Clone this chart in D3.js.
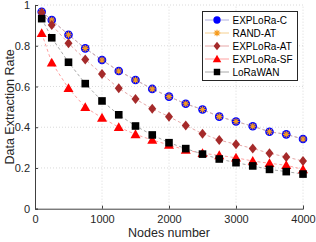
<!DOCTYPE html>
<html><head><meta charset="utf-8">
<script src="https://cdn.jsdelivr.net/npm/d3@7"></script>
<style>body{margin:0;background:#fff}svg{display:block;font-family:"Liberation Sans",Arial,sans-serif}</style>
</head><body><svg id="c" width="316" height="242"></svg>
<script>
const nodes = [100,250,500,750,1000,1250,1500,1750,2000,2250,2500,2750,3000,3250,3500,3750,4000];
const explC  = [0.967,0.926,0.854,0.787,0.730,0.676,0.632,0.588,0.550,0.515,0.487,0.452,0.428,0.405,0.378,0.365,0.342];
const randAT = [0.967,0.926,0.854,0.787,0.730,0.676,0.632,0.588,0.550,0.515,0.487,0.452,0.428,0.405,0.378,0.365,0.342];
const explAT = [0.962,0.902,0.812,0.733,0.661,0.591,0.538,0.491,0.452,0.409,0.368,0.337,0.316,0.296,0.272,0.254,0.234];
const explSF = [0.861,0.717,0.591,0.498,0.446,0.400,0.365,0.337,0.313,0.288,0.272,0.262,0.250,0.234,0.223,0.213,0.193];
const lorawan= [0.933,0.839,0.719,0.614,0.529,0.461,0.406,0.362,0.324,0.295,0.268,0.244,0.226,0.210,0.193,0.182,0.170];
const xTicks = [0,1000,2000,3000,4000];
const yTicks = [0,0.2,0.4,0.6,0.8,1];
const seriesNames = ["EXPLoRa-C","RAND-AT","EXPLoRa-AT","EXPLoRa-SF","LoRaWAN"];

const series = [
  {name:seriesNames[0], vals:explC, marker:"circle", fill:"#0000ff", line:"#b0b0e0"},
  {name:seriesNames[1], vals:randAT, marker:"star", fill:"#f59a1c", line:"#d8b0a8"},
  {name:seriesNames[2], vals:explAT, marker:"diamond", fill:"#a52a2a", line:"#e6a8a8"},
  {name:seriesNames[3], vals:explSF, marker:"triangle", fill:"#ff0000", line:"#ffa0a0"},
  {name:seriesNames[4], vals:lorawan, marker:"square", fill:"#000000", line:"#a8a8a8"}
];

const svg = d3.select("#c");
const L=35, R=303, T=5, B=208.7;
const x = d3.scaleLinear().domain([0,4000]).range([L,R]);
const y = d3.scaleLinear().domain([0,1]).range([B,T]);

const g = svg.append("g");
g.selectAll(".gx").data(xTicks.slice(1)).enter().append("line")
  .attr("x1",d=>x(d)).attr("x2",d=>x(d)).attr("y1",B).attr("y2",T)
  .attr("stroke","#d0d0d0").attr("stroke-width",0.8).attr("stroke-dasharray","1,2");
g.selectAll(".gy").data(yTicks.slice(1)).enter().append("line")
  .attr("y1",d=>y(d)).attr("y2",d=>y(d)).attr("x1",L).attr("x2",R)
  .attr("stroke","#d0d0d0").attr("stroke-width",0.8).attr("stroke-dasharray","1,2");

const ax = svg.append("g").attr("transform",`translate(0,${B})`)
  .call(d3.axisBottom(x).tickValues(xTicks).tickSize(-3).tickPadding(7).tickFormat(d3.format("d")));
const ay = svg.append("g").attr("transform",`translate(${L},0)`)
  .call(d3.axisLeft(y).tickValues(yTicks).tickSize(-3).tickPadding(5).tickFormat(d=>d===0||d===1?String(d):d3.format(".1f")(d)));
[ax,ay].forEach(a=>{
  a.select(".domain").attr("stroke","#404040");
  a.selectAll(".tick line").attr("stroke","#404040");
  a.selectAll("text").attr("fill","#262626").style("font-size","11px").style("font-family","'Liberation Sans',Arial,sans-serif");
});

svg.append("text").attr("x",(L+R)/2).attr("y",237).attr("text-anchor","middle")
  .style("font-size","12.5px").attr("fill","#262626").text("Nodes number");
svg.append("text").attr("transform",`translate(14,${(T+B)/2}) rotate(-90)`).attr("text-anchor","middle")
  .style("font-size","12.5px").attr("fill","#262626").text("Data Extraction Rate");

function drawMarker(sel, type, fill, s){
  if(type==="circle") sel.append("circle").attr("r",4.3*s).attr("fill",fill);
  else if(type==="square") sel.append("rect").attr("x",-3.8*s).attr("y",-3.8*s).attr("width",7.6*s).attr("height",7.6*s).attr("fill",fill);
  else if(type==="diamond") sel.append("path").attr("d",`M0,${-5*s}L${4*s},0L0,${5*s}L${-4*s},0Z`).attr("fill",fill);
  else if(type==="triangle") sel.append("path").attr("d",`M0,${-5*s}L${5*s},${3.8*s}L${-5*s},${3.8*s}Z`).attr("fill",fill);
  else if(type==="star"){
    const r=3.3*s, q=r*0.72;
    sel.append("path").attr("d",`M${-r},0L${r},0M0,${-r}L0,${r}M${-q},${-q}L${q},${q}M${-q},${q}L${q},${-q}`)
      .attr("stroke",fill).attr("stroke-width",1.1).attr("fill","none");
  }
}

const line = d3.line().x((d,i)=>x(nodes[i])).y(d=>y(d));
series.forEach(s=>{
  svg.append("path").attr("d",line(s.vals)).attr("fill","none").attr("stroke",s.line)
    .attr("stroke-width",1).attr("stroke-dasharray","3,2.5");
});
series.forEach(s=>{
  const mg = svg.append("g");
  s.vals.forEach((v,i)=>{
    const m = mg.append("g").attr("transform",`translate(${x(nodes[i])},${y(v)})`);
    drawMarker(m, s.marker, s.fill, 1);
  });
});

const lg = svg.append("g");
lg.append("rect").attr("x",202.5).attr("y",11.5).attr("width",95).attr("height",69)
  .attr("fill","#fff").attr("stroke","#262626").attr("stroke-width",1);
const legLine = ["#b0b0e0","#f5d090","#e6a8a8","#ffa0a0","#a8a8a8"];
series.forEach((s,i)=>{
  const yy = 20 + i*13;
  lg.append("line").attr("x1",205).attr("x2",229).attr("y1",yy).attr("y2",yy).attr("stroke",legLine[i]).attr("stroke-width",1);
  const m = lg.append("g").attr("transform",`translate(217,${yy})`);
  drawMarker(m, s.marker, s.fill, s.marker==="star"?1:0.85);
  lg.append("text").attr("x",232.5).attr("y",yy+3.6).style("font-size","10px").attr("fill","#000").text(s.name);
});
</script></body></html>
